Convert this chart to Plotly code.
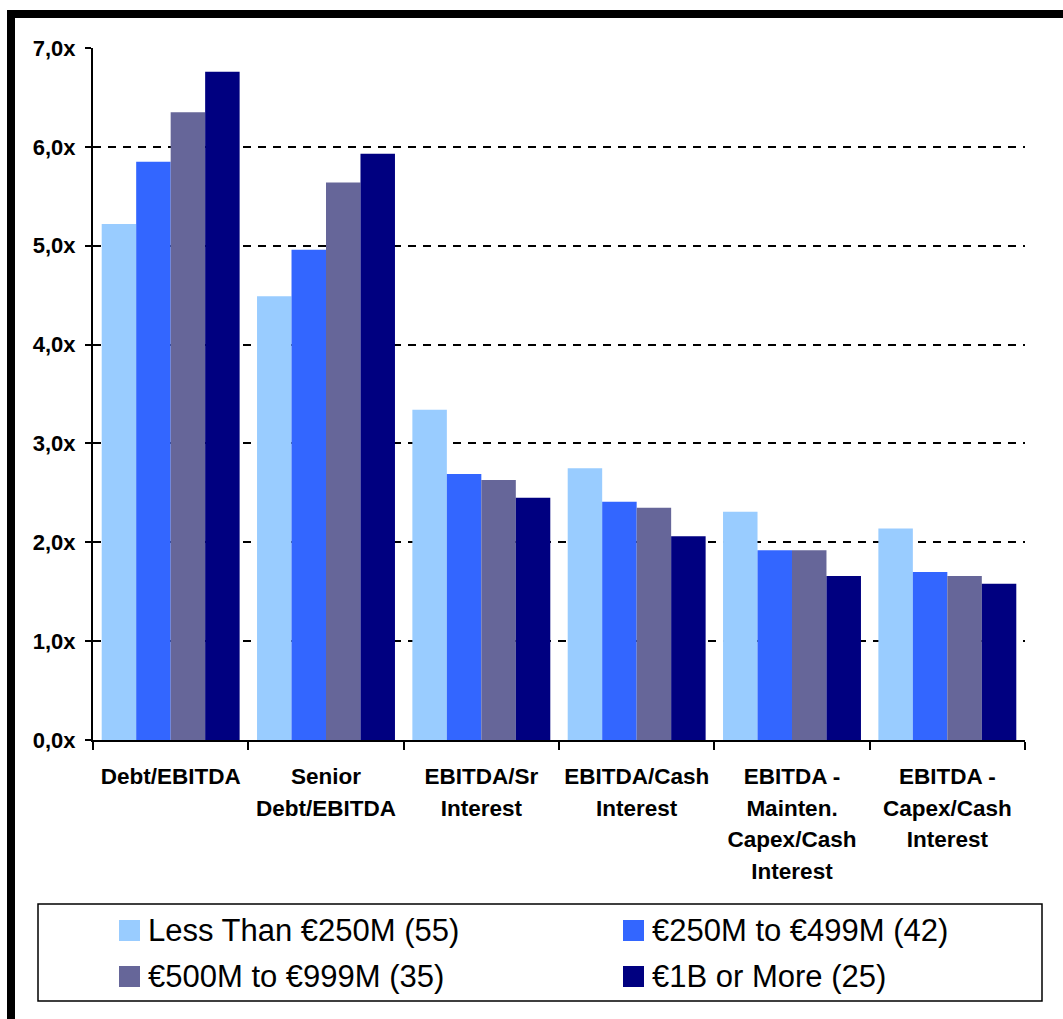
import plotly.graph_objects as go

# Credit statistics by company size (multiples)
categories = [
    "Debt/EBITDA",
    "Senior<br>Debt/EBITDA",
    "EBITDA/Sr<br>Interest",
    "EBITDA/Cash<br>Interest",
    "EBITDA -<br>Mainten.<br>Capex/Cash<br>Interest",
    "EBITDA -<br>Capex/Cash<br>Interest",
]

series_names = [
    "Less Than €250M (55)",
    "€250M to €499M (42)",
    "€500M to €999M (35)",
    "€1B or More (25)",
]

less_than_250m = [5.22, 4.49, 3.34, 2.75, 2.31, 2.14]
from_250m_to_499m = [5.85, 4.96, 2.69, 2.41, 1.92, 1.70]
from_500m_to_999m = [6.35, 5.64, 2.63, 2.35, 1.92, 1.66]
one_billion_plus = [6.76, 5.93, 2.45, 2.06, 1.66, 1.58]

y_ticks = [0, 1, 2, 3, 4, 5, 6, 7]
y_tick_labels = [f"{v:.1f}".replace(".", ",") + "x" for v in y_ticks]

series_values = [less_than_250m, from_250m_to_499m, from_500m_to_999m, one_billion_plus]
colors = ["#99CCFF", "#3366FF", "#666699", "#000080"]

FONT = "Liberation Sans, Arial, sans-serif"
W, H = 1063, 1019
L, R, T, B = 93, 1025, 48, 740  # plot area in pixels

# category labels: glyphs at 22.5px, line pitch taken from a larger base font
x_tick_labels = [
    "<br>".join(f"<span style='font-size:22.5px'>{part}</span>" for part in c.split("<br>"))
    for c in categories
]


def xp(px):
    return (px - L) / (R - L)


def yp(py):
    return (B - py) / (B - T)


fig = go.Figure()
for name, vals, col in zip(series_names, series_values, colors):
    fig.add_trace(go.Bar(
        x=categories, y=vals, name=name,
        marker=dict(color=col, line=dict(width=0)),
        showlegend=False,
    ))

shapes = []
annotations = []

# outer heavy frame (top and left edges)
shapes.append(dict(type="line", xref="paper", yref="paper",
                   x0=xp(7), x1=xp(W + 20), y0=yp(14), y1=yp(14),
                   line=dict(color="black", width=8)))
shapes.append(dict(type="line", xref="paper", yref="paper",
                   x0=xp(11), x1=xp(11), y0=yp(10), y1=yp(H + 20),
                   line=dict(color="black", width=8)))

# legend box
shapes.append(dict(type="rect", xref="paper", yref="paper",
                   x0=xp(38), x1=xp(1042), y0=yp(904), y1=yp(1001),
                   line=dict(color="black", width=1.5), fillcolor="white"))

# legend entries, two columns
col_x = [119, 623]
row_y = [930.5, 976.5]
sw = 21
for i, (name, col) in enumerate(zip(series_names, colors)):
    cx = col_x[i % 2]
    cy = row_y[i // 2]
    shapes.append(dict(type="rect", xref="paper", yref="paper",
                       x0=xp(cx), x1=xp(cx + sw),
                       y0=yp(cy - sw / 2), y1=yp(cy + sw / 2),
                       line=dict(width=0), fillcolor=col))
    annotations.append(dict(xref="paper", yref="paper",
                            x=xp(cx + sw + 6), y=yp(cy),
                            xanchor="left", yanchor="middle",
                            text=name, showarrow=False,
                            font=dict(family=FONT, size=31, color="black")))

fig.update_layout(
    width=W, height=H,
    margin=dict(l=L, r=W - R, t=T, b=H - B, pad=0),
    paper_bgcolor="white", plot_bgcolor="white",
    barmode="group", bargap=0.112, bargroupgap=0,
    font=dict(family=FONT, color="black"),
    shapes=shapes, annotations=annotations,
    showlegend=False,
)

fig.update_xaxes(
    type="category", categoryorder="array", categoryarray=categories,
    tickmode="array", tickvals=categories, ticktext=x_tick_labels,
    showline=True, linecolor="black", linewidth=2,
    ticks="outside", tickson="boundaries", ticklen=8, tickwidth=1.5, tickcolor="black",
    tickfont=dict(family=FONT, size=24.6, color="black", weight="bold"),
    showgrid=False, ticklabelstandoff=12,
)

fig.update_yaxes(
    range=[0, 7], tickmode="array", tickvals=y_ticks, ticktext=y_tick_labels,
    showline=True, linecolor="black", linewidth=2,
    ticks="outside", ticklen=6, tickwidth=1.5, tickcolor="black",
    tickfont=dict(family=FONT, size=22, color="black", weight="bold"),
    showgrid=True, gridcolor="black", gridwidth=1.5, griddash="8px,7px",
    zeroline=False, ticklabelstandoff=5,
)

fig.write_html("out.html")
